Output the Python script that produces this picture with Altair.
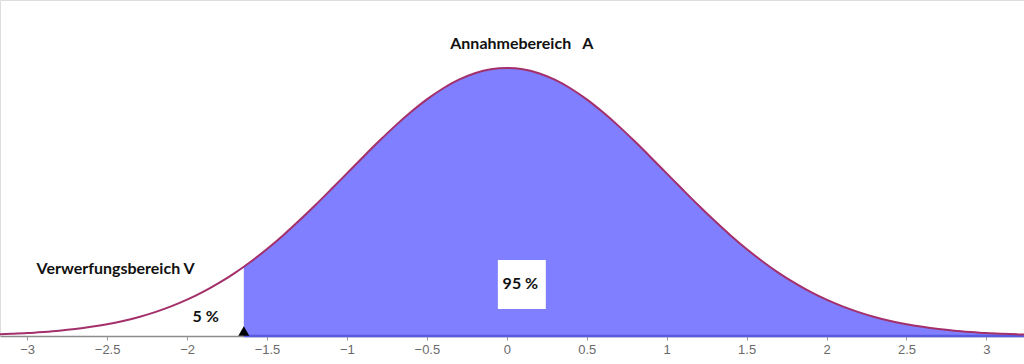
import altair as alt
import pandas as pd

# standard normal density, read at 0.1 steps (right half; curve is symmetric)
half_x = [round(i * 0.1, 1) for i in range(34)]
half_y = [0.3989, 0.3970, 0.3910, 0.3814, 0.3683, 0.3521, 0.3332, 0.3123, 0.2897, 0.2661,
          0.2420, 0.2179, 0.1942, 0.1714, 0.1497, 0.1295, 0.1109, 0.0940, 0.0790, 0.0656,
          0.0540, 0.0440, 0.0355, 0.0283, 0.0224, 0.0175, 0.0136, 0.0104, 0.0079, 0.0060,
          0.0044, 0.0033, 0.0024, 0.0017]
crit_x = -1.645
crit_y = 0.1031

xs = [-v for v in reversed(half_x[1:])] + half_x
ys = list(reversed(half_y[1:])) + half_y
pts = sorted(list(zip(xs, ys)) + [(crit_x, crit_y)])
curve = pd.DataFrame(pts, columns=["x", "y"])
accept = curve[curve["x"] >= crit_x]

x_domain = [-3.17, 3.235]
y_domain = [0, 0.5]
tick_values = [-3, -2.5, -2, -1.5, -1, -0.5, 0, 0.5, 1, 1.5, 2, 2.5, 3]

label_text = ["Annahmebereich\u00a0\u00a0\u00a0A", "Verwerfungsbereich V", "5 %", "95 %"]
label_x = [0.094, -2.447, -1.884, 0.085]
label_y = [0.4345, 0.0997, 0.0283, 0.0774]
labels = pd.DataFrame({"t": label_text, "x": label_x, "y": label_y})

box = pd.DataFrame({"x": [-0.056], "x2": [0.244], "y": [0.040], "y2": [0.113]})
base_rule = pd.DataFrame({"x": [crit_x], "x2": [x_domain[1]], "y": [0]})
marker = pd.DataFrame({"x": [crit_x], "y": [0]})

xs_scale = alt.Scale(domain=x_domain, nice=False, zero=False)
ys_scale = alt.Scale(domain=y_domain, nice=False)

X = alt.X("x:Q", scale=xs_scale,
          axis=alt.Axis(values=tick_values, format="~g",
                        title=None, grid=False, domainColor="#8c8c8c", domainWidth=1.5,
                        tickColor="#9a9a9a", tickSize=4, labelColor="#6a6a6a",
                        labelFont="Liberation Sans", labelFontSize=13, labelPadding=3))
Y = alt.Y("y:Q", scale=ys_scale, axis=None)

area = alt.Chart(accept).mark_area(color="#7f7fff", opacity=1, interpolate="monotone", clip=True).encode(x=X, y=Y)
line = alt.Chart(curve).mark_line(color="#a3306b", strokeWidth=2, interpolate="monotone", clip=True).encode(
    x=alt.X("x:Q", scale=xs_scale), y=alt.Y("y:Q", scale=ys_scale))
rule = alt.Chart(base_rule).mark_rule(color="#5a5ae0", strokeWidth=2.5).encode(
    x=alt.X("x:Q", scale=xs_scale), x2="x2:Q", y=alt.Y("y:Q", scale=ys_scale))
tri = alt.Chart(marker).mark_point(shape="triangle-up", filled=True, color="black", size=120, opacity=1, yOffset=-5).encode(
    x=alt.X("x:Q", scale=xs_scale), y=alt.Y("y:Q", scale=ys_scale))
rect = alt.Chart(box).mark_rect(color="white").encode(
    x=alt.X("x:Q", scale=xs_scale), x2="x2:Q", y=alt.Y("y:Q", scale=ys_scale), y2="y2:Q")
text = alt.Chart(labels).mark_text(font="Lato", fontWeight="bold", fontSize=16, color="#111111").encode(
    x=alt.X("x:Q", scale=xs_scale), y=alt.Y("y:Q", scale=ys_scale), text="t:N")

chart = alt.layer(area, rule, line, rect, tri, text).properties(
    width=1024, height=336, padding={"left": 0, "top": 0, "right": 0, "bottom": 28},
    autosize=alt.AutoSizeParams(type="none")
).configure_view(stroke=None).configure(background="white")

chart.save("out.html", embed_options={"renderer": "svg", "actions": False})
